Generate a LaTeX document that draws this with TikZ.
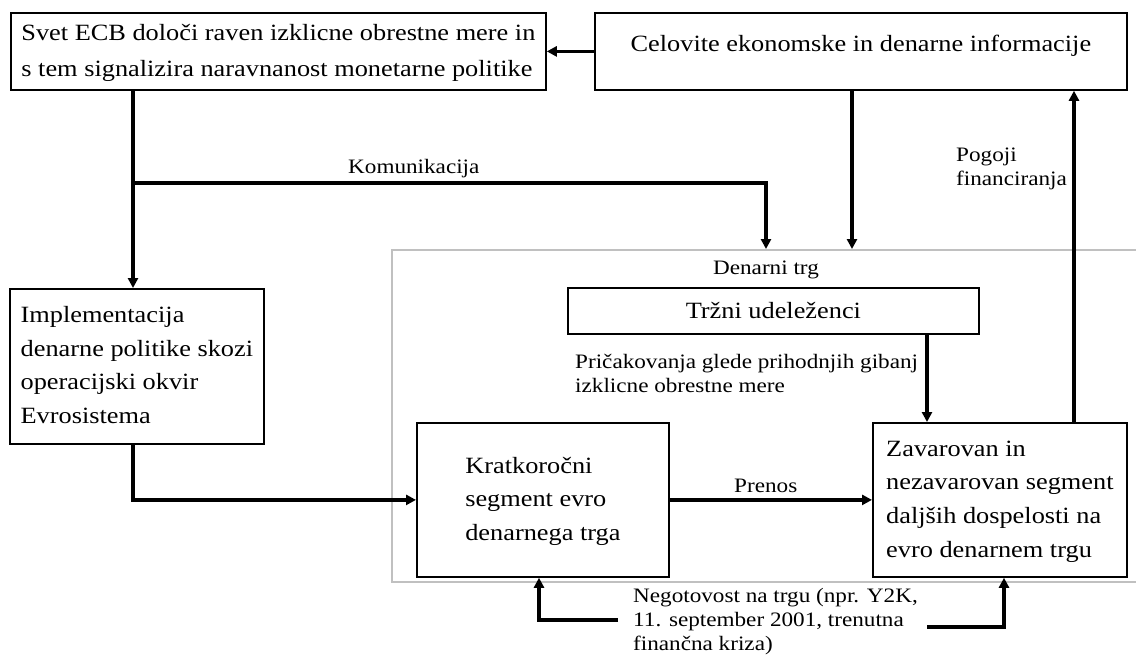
\documentclass[tikz,border=0pt]{standalone}
\usepackage{fontspec}
\setmainfont[FakeStretch=1.13]{Liberation Serif}
\usetikzlibrary{arrows.meta}
\definecolor{framegray}{RGB}{192,192,192}
\begin{document}
\begin{tikzpicture}[x=1pt,y=-1pt,
  box/.style={draw, line width=1.8pt, inner sep=0pt, anchor=north west, align=center,
              font=\fontsize{23.3}{33.6}\selectfont},
  lbl/.style={inner sep=0pt, anchor=north west, align=left,
              font=\fontsize{20.5}{24}\selectfont},
  conn/.style={line width=3.2pt, -{Triangle[length=10pt,width=10pt]}},
]
\useasboundingbox (0,0) rectangle (1136,659);

% frame of the money market
\node[draw=framegray, line width=1.7pt, anchor=north west, inner sep=0pt,
      minimum width=749, minimum height=332] (dm) at (391,249) {};

% boxes
\node[box, align=left, minimum width=535, minimum height=77,
      font=\fontsize{23.3}{35.5}\selectfont] (b1) at (10,12)
  {\strut Svet ECB določi raven izklicne obrestne mere in\\
   \strut s tem signalizira naravnanost monetarne politike};
\node[box, minimum width=532, minimum height=77, text height=15pt, text depth=15pt] (b2) at (594,12)
  {Celovite ekonomske in denarne informacije};
\node[box, align=left, minimum width=254, minimum height=155] (impl) at (9,288)
  {\strut Implementacija\\ \strut denarne politike skozi\\ \strut operacijski okvir\\ \strut Evrosistema};
\node[box, minimum width=411, minimum height=46] (tu) at (567,287) {Tržni udeleženci};
\node[box, align=left, minimum width=252, minimum height=154] (krat) at (416,422)
  {\strut Kratkoročni\\ \strut segment evro\\ \strut denarnega trga};
\node[box, align=left, minimum width=254, minimum height=154] (zav) at (872,422)
  {\strut Zavarovan in\\ \strut nezavarovan segment\\ \strut daljših dospelosti na\\ \strut evro denarnem trgu};

% labels
\node[lbl] (lk) at (348,156.2) {\strut Komunikacija};
\node[lbl, anchor=north] (ldt) at (766,257.2) {\strut Denarni trg};
\node[lbl] (lpr) at (575,351.2) {\strut Pričakovanja glede prihodnjih gibanj\\ \strut izklicne obrestne mere};
\node[lbl] (lpo) at (956,144.2) {\strut Pogoji\\ \strut financiranja};
\node[lbl] (lpn) at (734,475.2) {\strut Prenos};
\node[lbl] (lne) at (633,585.2) {\strut Negotovost na trgu (npr. Y2K,\\ \strut 11. september 2001, trenutna\\ \strut finančna kriza)};

% helper coordinates
\coordinate (vx) at (133,0);
\coordinate (ks) at (133,183);
\coordinate (kx) at (766,0);
\coordinate (ix) at (852,0);
\coordinate (tx) at (927,0);
\coordinate (px) at (1074,0);
\coordinate (nl) at (618,620);
\coordinate (lx) at (539,0);
\coordinate (nr) at (927,627);
\coordinate (rx) at (1004,0);

% connectors
\draw[conn] (b2.west) -- (b1.east);
\draw[conn] (b1.south -| vx) -- (impl.north -| vx);
\draw[conn] (ks) -| (dm.north -| kx);
\draw[conn] (b2.south -| ix) -- (dm.north -| ix);
\draw[conn] (tu.south -| tx) -- (zav.north -| tx);
\draw[conn] (impl.south -| vx) |- (krat.west);
\draw[conn] (krat.east) -- (zav.west);
\draw[conn] (zav.north -| px) -- (b2.south -| px);
\draw[conn] (nl) -| (krat.south -| lx);
\draw[conn] (nr) -| (zav.south -| rx);
\end{tikzpicture}
\end{document}
